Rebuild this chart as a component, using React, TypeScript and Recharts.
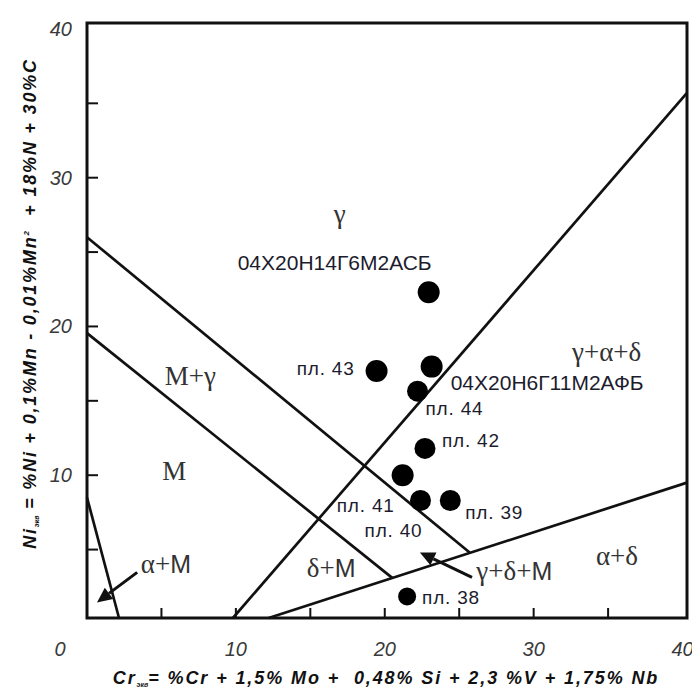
import { ScatterChart, Scatter, XAxis, YAxis, ReferenceLine, ReferenceArea, ReferenceDot } from 'recharts';

const SERIF = '"Liberation Serif", "DejaVu Serif", serif';
const SANS = '"Liberation Sans", Arial, sans-serif';
const INK = '#111';

// welded metal samples: chromium / nickel equivalents
const steelNames = ['04Х20Н14Г6М2АСБ', 'пл. 43', '04Х20Н6Г11М2АФБ', 'пл. 44', 'пл. 42', 'пл. 41', 'пл. 40', 'пл. 39', 'пл. 38'];
const crEq = [22.95, 19.45, 23.15, 22.2, 22.7, 21.2, 22.4, 24.4, 21.5];
const niEq = [22.3, 17.0, 17.3, 15.65, 11.8, 10.0, 8.3, 8.3, 1.85];

// label placement next to each dot (px from centre) and dot radius
const labelDx = [-94, -22, 19, 8, 17, -8, 2, 15, 15];
const labelDy = [-30, -3, 16, 17, -8, 30, 30, 12, 1];
const labelAnchor = ['middle', 'end', 'start', 'start', 'start', 'end', 'end', 'start', 'start'];
const labelSize = [21, 19, 21, 19, 19, 19, 19, 19, 19];
const dotRadius = [11, 11, 11, 10.5, 10.5, 11, 10.5, 10.5, 9];

// phase boundaries of the constitution diagram, [Cr_eq, Ni_eq] end points
const boundaries: [number, number][][] = [
  [[0, 26], [25.7, 4.8]],      // M+γ / γ
  [[0, 19.55], [20.5, 3.1]],   // M / M+γ
  [[9.8, 0.4], [40.3, 35.7]],  // γ / γ+α+δ
  [[12.2, 0.4], [40.3, 9.5]],  // α+δ
  [[0, 8.5], [2.15, 0.4]],     // α+M
];

// phase field captions: [serif part, sans part] at [Cr_eq, Ni_eq]
const regionText = [['γ', ''], ['M+γ', ''], ['M', ''], ['α+', 'M'], ['δ+', 'M'], ['γ+δ+', 'M'], ['α+δ', ''], ['γ+α+δ', '']];
const regionCr = [16.97, 6.94, 5.86, 5.3, 16.4, 28.7, 35.6, 34.9];
const regionNi = [27.6, 16.7, 10.3, 4.07, 3.8, 3.6, 4.6, 18.3];

// pointer arrows: from, to
const arrows: [number, number][][] = [
  [[3.37, 3.47], [0.67, 1.45]],
  [[25.86, 3.13], [22.36, 4.81]],
];

const xTicks = [0, 5, 10, 15, 20, 25, 30, 35, 40];
const yTicks = [5, 10, 15, 20, 25, 30, 35, 40];

const X_DOMAIN: [number, number] = [0, 40.3];
const Y_DOMAIN: [number, number] = [0.4, 40.4];

const points = crEq.map((cr, i) => ({ cr, ni: niEq[i], i }));

function XTick({ x, y, payload }: any) {
  const v = payload.value;
  return (
    <g>
      {v > 0 && v < 40 && <line x1={x} y1={y} x2={x} y2={y - 10} stroke={INK} strokeWidth={2} />}
      {v % 10 === 0 && (
        <text x={v === 0 ? x - 27 : x} y={y + 38} textAnchor="middle" fontFamily={SANS} fontStyle="italic" fontSize={20} fill="#3a3a3a">
          {v}
        </text>
      )}
    </g>
  );
}

function YTick({ x, y, payload }: any) {
  const v = payload.value;
  return (
    <g>
      {v < 40 && <line x1={x} y1={y} x2={x + 11} y2={y} stroke={INK} strokeWidth={2} />}
      {v % 10 === 0 && (
        <text x={x - 15} y={y + 7} textAnchor="end" fontFamily={SANS} fontStyle="italic" fontSize={20} fill="#3a3a3a">
          {v}
        </text>
      )}
    </g>
  );
}

function SteelDot({ cx, cy, payload }: any) {
  const i = payload.i;
  return (
    <g>
      <circle cx={cx} cy={cy} r={dotRadius[i]} fill="#000" />
      <text
        x={cx + labelDx[i]}
        y={cy + labelDy[i]}
        dy="0.36em"
        textAnchor={labelAnchor[i]}
        fontFamily={SANS}
        fontSize={labelSize[i]}
        letterSpacing={labelSize[i] === 19 ? 0.8 : 0}
        fill="#1c1c2e"
      >
        {steelNames[i]}
      </text>
    </g>
  );
}

function Arrow({ x1, y1, x2, y2 }: any) {
  const a = Math.atan2(y2 - y1, x2 - x1);
  const len = 15;
  const w = 7;
  const bx = x2 - len * Math.cos(a);
  const by = y2 - len * Math.sin(a);
  const px = -Math.sin(a) * w;
  const py = Math.cos(a) * w;
  return (
    <g>
      <line x1={x1} y1={y1} x2={bx} y2={by} stroke={INK} strokeWidth={3} />
      <polygon points={`${x2},${y2} ${bx + px},${by + py} ${bx - px},${by - py}`} fill={INK} />
    </g>
  );
}

function XTitle({ viewBox }: any) {
  const { x, y, width } = viewBox;
  return (
    <text
      x={x + width / 2 - 1}
      y={y + 66}
      textAnchor="middle"
      fontFamily={SANS}
      fontWeight="bold"
      fontStyle="italic"
      fontSize={18}
      letterSpacing={1.9}
      fill={INK}
      style={{ whiteSpace: 'pre' }}
    >
      Cr<tspan fontSize={7} dy={3} letterSpacing={0}>экв</tspan>
      <tspan dy={-3}>= %Cr + 1,5% Mo +  0,48% Si + 2,3 %V + 1,75% Nb</tspan>
    </text>
  );
}

function YTitle({ viewBox }: any) {
  const { y, height } = viewBox;
  const cx = 22;
  const cy = y + height / 2 - 17;
  return (
    <text
      transform={`translate(${cx},${cy}) rotate(-90)`}
      textAnchor="middle"
      dy="0.36em"
      fontFamily={SANS}
      fontWeight="bold"
      fontStyle="italic"
      fontSize={18}
      letterSpacing={1.8}
      fill={INK}
      style={{ whiteSpace: 'pre' }}
    >
      Ni<tspan fontSize={7} dy={3} letterSpacing={0}>экв</tspan>
      <tspan dy={-3}> = %Ni + 0,1%Mn - 0,01%Mn</tspan>
      <tspan fontSize={8} dy={-7}>2</tspan>
      <tspan dy={7}>  + 18%N + 30%C</tspan>
    </text>
  );
}

export default function App() {
  return (
    <ScatterChart width={692} height={680} margin={{ top: 15, right: 13, bottom: 0, left: 0 }}>
      <XAxis
        type="number"
        dataKey="cr"
        domain={X_DOMAIN}
        ticks={xTicks}
        interval={0}
        allowDataOverflow
        axisLine={false}
        tickLine={false}
        tickSize={0}
        tickMargin={0}
        height={70}
        tick={<XTick />}
        label={{ content: (p: any) => <XTitle {...p} /> }}
      />
      <YAxis
        type="number"
        dataKey="ni"
        domain={Y_DOMAIN}
        ticks={yTicks}
        interval={0}
        allowDataOverflow
        axisLine={false}
        tickLine={false}
        tickSize={0}
        tickMargin={0}
        width={79}
        tick={<YTick />}
        label={{ content: (p: any) => <YTitle {...p} /> }}
      />
      <ReferenceArea
        x1={X_DOMAIN[0]}
        x2={X_DOMAIN[1]}
        y1={Y_DOMAIN[0]}
        y2={Y_DOMAIN[1]}
        fill="none"
        stroke={INK}
        strokeWidth={3}
        ifOverflow="visible"
      />
      {boundaries.map((seg, k) => (
        <ReferenceLine
          key={`b${k}`}
          segment={[{ x: seg[0][0], y: seg[0][1] }, { x: seg[1][0], y: seg[1][1] }]}
          stroke={INK}
          strokeWidth={2.7}
          ifOverflow="visible"
        />
      ))}
      {arrows.map((seg, k) => (
        <ReferenceLine
          key={`a${k}`}
          segment={[{ x: seg[0][0], y: seg[0][1] }, { x: seg[1][0], y: seg[1][1] }]}
          ifOverflow="visible"
          shape={(p: any) => <Arrow {...p} />}
        />
      ))}
      {regionText.map((parts, k) => (
        <ReferenceDot
          key={`r${k}`}
          x={regionCr[k]}
          y={regionNi[k]}
          r={0}
          ifOverflow="visible"
          shape={(p: any) => (
            <text x={p.cx} y={p.cy} dy="0.35em" textAnchor="middle" fontSize={27} fill="#333">
              <tspan fontFamily={SERIF}>{parts[0]}</tspan>
              {parts[1] && <tspan fontFamily={SANS} fontSize={25}>{parts[1]}</tspan>}
            </text>
          )}
        />
      ))}
      <Scatter data={points} isAnimationActive={false} shape={(p: any) => <SteelDot {...p} />} />
    </ScatterChart>
  );
}
